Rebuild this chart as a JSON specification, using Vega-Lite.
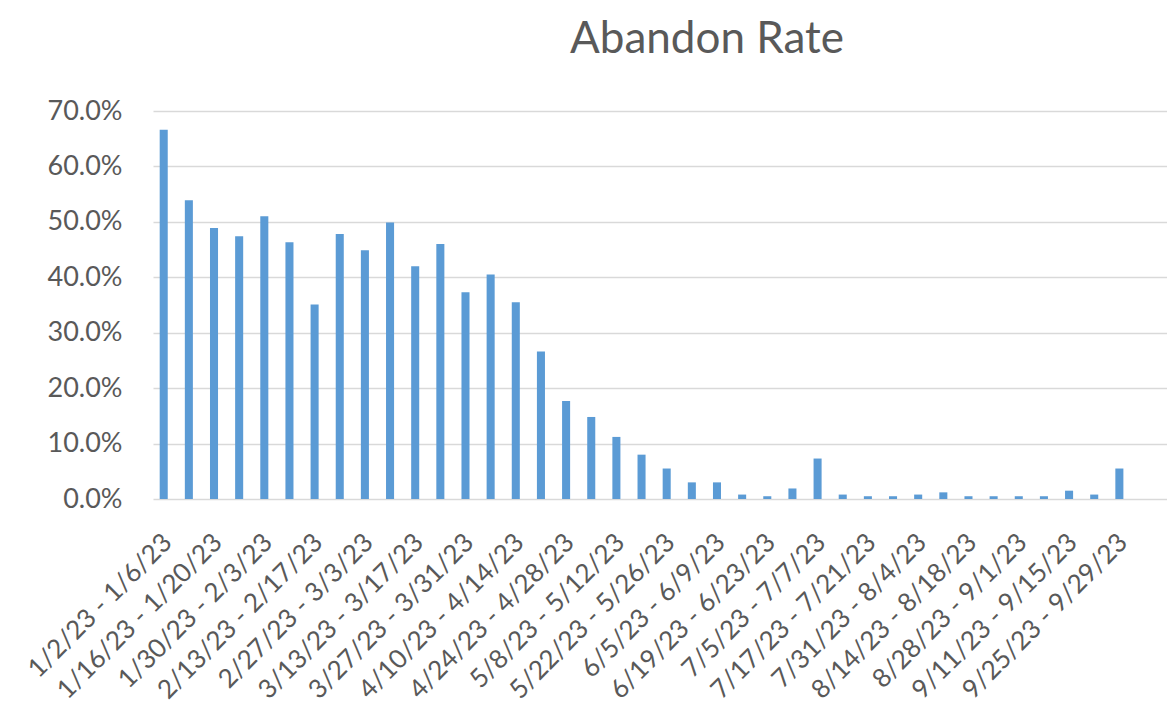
{
  "$schema": "https://vega.github.io/schema/vega-lite/v6.json",
  "autosize": "none",
  "padding": {"left": 153, "top": 111, "right": 0, "bottom": 212},
  "width": 1014,
  "height": 388,
  "background": "white",
  "title": {
    "text": "Abandon Rate",
    "font": "Lato",
    "fontSize": 44,
    "fontWeight": "normal",
    "color": "#595959",
    "anchor": "middle",
    "frame": "group",
    "baseline": "alphabetic",
    "offset": 0,
    "dx": 47
  },
  "data": {
    "values": [
      {"week": "1/2/23 - 1/6/23", "rate": 0.666},
      {"week": "1/9/23 - 1/13/23", "rate": 0.539},
      {"week": "1/16/23 - 1/20/23", "rate": 0.489},
      {"week": "1/23/23 - 1/27/23", "rate": 0.474},
      {"week": "1/30/23 - 2/3/23", "rate": 0.510},
      {"week": "2/6/23 - 2/10/23", "rate": 0.463},
      {"week": "2/13/23 - 2/17/23", "rate": 0.351},
      {"week": "2/20/23 - 2/24/23", "rate": 0.478},
      {"week": "2/27/23 - 3/3/23", "rate": 0.449},
      {"week": "3/6/23 - 3/10/23", "rate": 0.499},
      {"week": "3/13/23 - 3/17/23", "rate": 0.420},
      {"week": "3/20/23 - 3/24/23", "rate": 0.460},
      {"week": "3/27/23 - 3/31/23", "rate": 0.373},
      {"week": "4/3/23 - 4/7/23", "rate": 0.405},
      {"week": "4/10/23 - 4/14/23", "rate": 0.355},
      {"week": "4/17/23 - 4/21/23", "rate": 0.266},
      {"week": "4/24/23 - 4/28/23", "rate": 0.177},
      {"week": "5/1/23 - 5/5/23", "rate": 0.148},
      {"week": "5/8/23 - 5/12/23", "rate": 0.112},
      {"week": "5/15/23 - 5/19/23", "rate": 0.080},
      {"week": "5/22/23 - 5/26/23", "rate": 0.055},
      {"week": "5/29/23 - 6/2/23", "rate": 0.030},
      {"week": "6/5/23 - 6/9/23", "rate": 0.030},
      {"week": "6/12/23 - 6/16/23", "rate": 0.008},
      {"week": "6/19/23 - 6/23/23", "rate": 0.005},
      {"week": "6/26/23 - 6/30/23", "rate": 0.019},
      {"week": "7/5/23 - 7/7/23", "rate": 0.073},
      {"week": "7/10/23 - 7/14/23", "rate": 0.008},
      {"week": "7/17/23 - 7/21/23", "rate": 0.005},
      {"week": "7/24/23 - 7/28/23", "rate": 0.005},
      {"week": "7/31/23 - 8/4/23", "rate": 0.008},
      {"week": "8/7/23 - 8/11/23", "rate": 0.012},
      {"week": "8/14/23 - 8/18/23", "rate": 0.005},
      {"week": "8/21/23 - 8/25/23", "rate": 0.005},
      {"week": "8/28/23 - 9/1/23", "rate": 0.005},
      {"week": "9/4/23 - 9/8/23", "rate": 0.005},
      {"week": "9/11/23 - 9/15/23", "rate": 0.015},
      {"week": "9/18/23 - 9/22/23", "rate": 0.008},
      {"week": "9/25/23 - 9/29/23", "rate": 0.055}
    ]
  },
  "mark": {"type": "bar", "color": "#5B9BD5"},
  "encoding": {
    "x": {
      "field": "week",
      "type": "nominal",
      "sort": null,
      "title": null,
      "scale": {"paddingInner": 0.68, "paddingOuter": 1.095, "align": 0.133},
      "axis": {
        "values": ["1/2/23 - 1/6/23", "1/16/23 - 1/20/23", "1/30/23 - 2/3/23", "2/13/23 - 2/17/23", "2/27/23 - 3/3/23", "3/13/23 - 3/17/23", "3/27/23 - 3/31/23", "4/10/23 - 4/14/23", "4/24/23 - 4/28/23", "5/8/23 - 5/12/23", "5/22/23 - 5/26/23", "6/5/23 - 6/9/23", "6/19/23 - 6/23/23", "7/5/23 - 7/7/23", "7/17/23 - 7/21/23", "7/31/23 - 8/4/23", "8/14/23 - 8/18/23", "8/28/23 - 9/1/23", "9/11/23 - 9/15/23", "9/25/23 - 9/29/23"],
        "labelAngle": -45,
        "labelAlign": "right",
        "labelBaseline": "middle",
        "labelPadding": 39,
        "labelOffset": 4,
        "labelFont": "Lato",
        "labelFontSize": 26,
        "labelColor": "#595959",
        "labelOverlap": false,
        "labelLimit": 0,
        "ticks": false,
        "domain": false,
        "grid": false
      }
    },
    "y": {
      "field": "rate",
      "type": "quantitative",
      "title": null,
      "scale": {"domain": [0, 0.7], "nice": false},
      "axis": {
        "values": [0, 0.1, 0.2, 0.3, 0.4, 0.5, 0.6, 0.7],
        "format": ".1%",
        "labelFont": "Lato",
        "labelFontSize": 27,
        "labelColor": "#595959",
        "labelPadding": 31,
        "ticks": false,
        "domain": false,
        "grid": true,
        "gridColor": "#D9D9D9",
        "gridWidth": 1.5
      }
    }
  },
  "config": {
    "view": {"stroke": null}
  }
}
